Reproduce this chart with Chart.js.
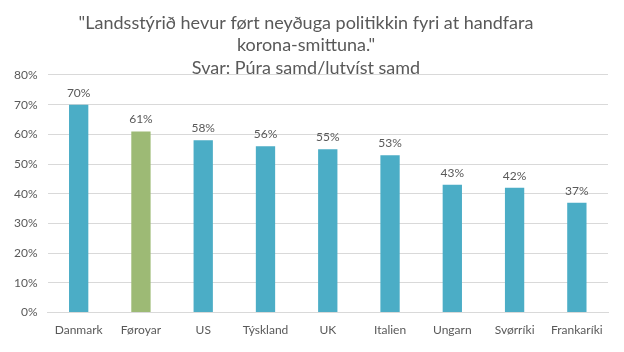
<!DOCTYPE html>
<html>
<head>
<meta charset="utf-8">
<script src="https://cdn.jsdelivr.net/npm/chart.js@4"></script>
<style>
  html, body { margin: 0; padding: 0; background: #fff; }
  #wrap { width: 624px; height: 352px; }
</style>
</head>
<body>
<div id="wrap"><canvas id="barChart"></canvas></div>
<script>
var countries = ['Danmark', 'Føroyar', 'US', 'Týskland', 'UK', 'Italien', 'Ungarn', 'Svørríki', 'Frankaríki'];
var agree = [70, 61, 58, 56, 55, 53, 43, 42, 37];
var highlight = 'Føroyar';
var y_ticks = [0, 10, 20, 30, 40, 50, 60, 70, 80];
var title_lines = ['"Landsstýrið hevur ført neyðuga politikkin fyri at handfara', 'korona-smittuna."', 'Svar: Púra samd/lutvíst samd'];

// labels over each bar
var barLabels = {
    id: 'barLabels',
    afterDatasetsDraw(chart) {
        const ctx = chart.ctx;
        const meta = chart.getDatasetMeta(0);
        ctx.save();
        ctx.font = '12px Lato, "Open Sans", sans-serif';
        ctx.fillStyle = '#595959';
        ctx.textAlign = 'center';
        ctx.textBaseline = 'bottom';
        meta.data.forEach((bar, i) => {
            ctx.fillText(agree[i] + '%', bar.x, bar.y - 6);
        });
        ctx.restore();
    }
};

const barCtx = document.getElementById('barChart').getContext('2d');
new Chart(barCtx, {
    type: 'bar',
    data: {
        labels: countries,
        datasets: [{
            data: agree,
            backgroundColor: countries.map(c => c == highlight ? '#9DBA75' : '#4BADC6'),
            barPercentage: 0.62,
            categoryPercentage: 0.5
        }]
    },
    options: {
        responsive: true,
        maintainAspectRatio: false,
        animation: false,
        layout: { padding: { left: 4, right: 16, top: 0, bottom: 13 } },
        plugins: {
            legend: { display: false },
            tooltip: { enabled: false },
            title: {
                display: true,
                text: title_lines,
                color: '#595959',
                font: { family: 'Lato, "Open Sans", sans-serif', size: 18, weight: 'normal', lineHeight: 1.24 },
                padding: { top: 12, bottom: -4 }
            }
        },
        scales: {
            x: {
                grid: { display: false },
                border: { color: '#d9d9d9' },
                ticks: { color: '#595959', font: { family: 'Lato, "Open Sans", sans-serif', size: 12 }, padding: 2 }
            },
            y: {
                min: 0,
                max: 80,
                afterBuildTicks: axis => { axis.ticks = y_ticks.map(v => ({ value: v })); },
                grid: { color: '#d9d9d9', drawTicks: false },
                border: { display: false },
                ticks: {
                    color: '#595959',
                    font: { family: 'Lato, "Open Sans", sans-serif', size: 12 },
                    padding: 10,
                    callback: v => v + '%'
                }
            }
        }
    },
    plugins: [barLabels]
});
</script>
</body>
</html>
